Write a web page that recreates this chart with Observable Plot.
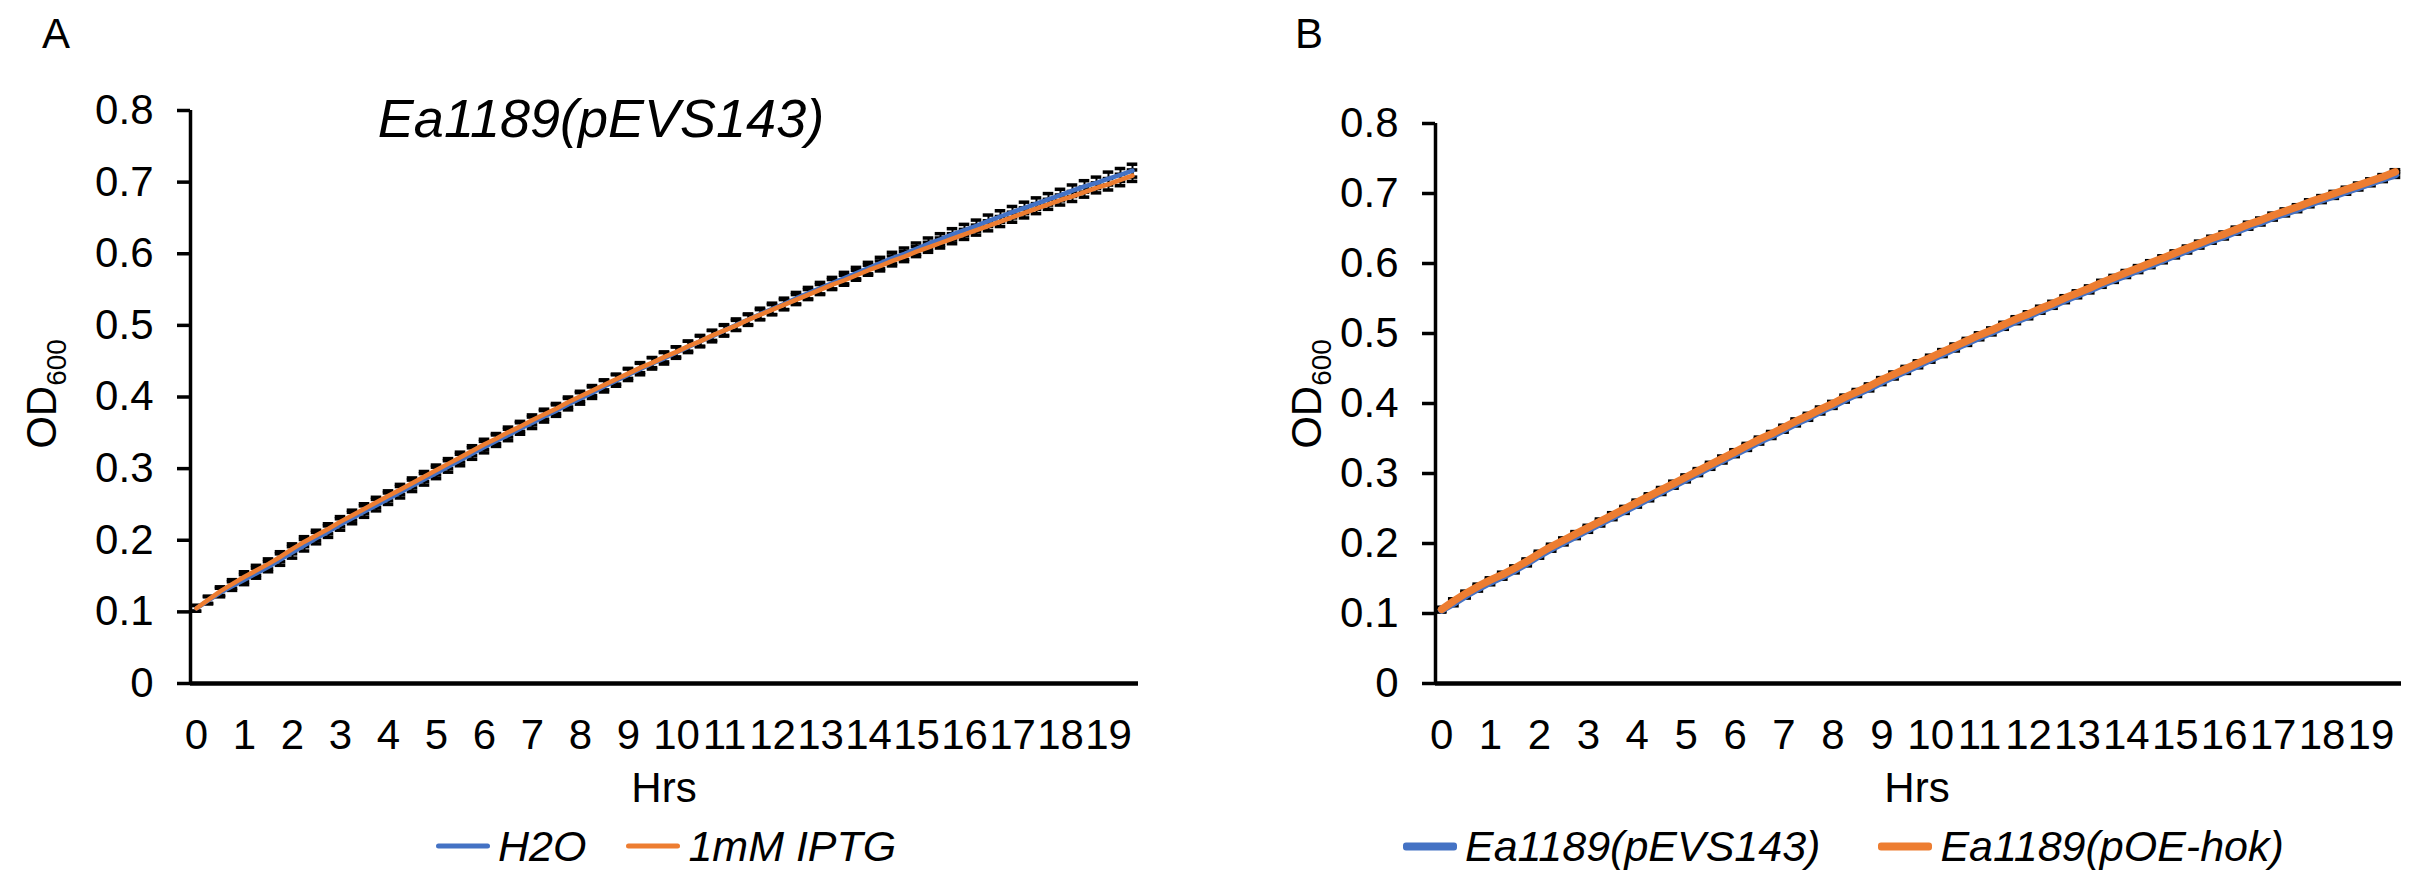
<!DOCTYPE html>
<html><head><meta charset="utf-8">
<script src="https://cdn.jsdelivr.net/npm/d3@7"></script>
<script src="https://cdn.jsdelivr.net/npm/@observablehq/plot@0.6"></script>
<style>
body{margin:0;background:#fff;}
#wrap{position:relative;width:2424px;height:875px;font-family:"Liberation Sans",Arial,sans-serif;color:#000;overflow:hidden;background:#fff}
.abs{position:absolute;white-space:nowrap;line-height:1}
.panel{position:absolute;top:0}
.legend{position:absolute;display:flex;align-items:center;font-style:italic;font-size:43px;white-space:nowrap;transform:translateY(-50%)}
.sw{display:inline-block;width:54px;margin-right:8px;border-radius:3px}
</style></head>
<body><div id="wrap"></div>
<script>
// ---- data ----
const hours = [0,0.25,0.5,0.75,1,1.25,1.5,1.75,2,2.25,2.5,2.75,3,3.25,3.5,3.75,4,4.25,4.5,4.75,5,5.25,5.5,5.75,6,6.25,6.5,6.75,7,7.25,7.5,7.75,8,8.25,8.5,8.75,9,9.25,9.5,9.75,10,10.25,10.5,10.75,11,11.25,11.5,11.75,12,12.25,12.5,12.75,13,13.25,13.5,13.75,14,14.25,14.5,14.75,15,15.25,15.5,15.75,16,16.25,16.5,16.75,17,17.25,17.5,17.75,18,18.25,18.5,18.75,19,19.25,19.5];
const xTicks = [0,1,2,3,4,5,6,7,8,9,10,11,12,13,14,15,16,17,18,19];
const yTicks = [0,0.1,0.2,0.3,0.4,0.5,0.6,0.7,0.8];

const seriesA = ["H2O", "1mM IPTG"];
const seriesB = ["Ea1189(pEVS143)", "Ea1189(pOE-hok)"];
const titleA = "Ea1189(pEVS143)";

const aH2O = [.105,.116,.127,.136,.145,.154,.163,.173,.183,.193,
.203,.212,.222,.231,.240,.249,.258,.267,.276,.285,
.294,.303,.312,.321,.330,.339,.347,.356,.364,.373,
.381,.390,.398,.406,.415,.423,.431,.439,.447,.454,
.462,.470,.478,.485,.493,.501,.508,.516,.523,.530,
.538,.545,.552,.559,.566,.573,.580,.587,.594,.600,
.607,.614,.620,.627,.633,.639,.646,.652,.658,.664,
.670,.676,.682,.688,.694,.699,.705,.710,.716];
const aIPTG = [.105,.117,.129,.139,.149,.158,.167,.177,.188,.198,
.207,.216,.226,.235,.244,.253,.262,.271,.280,.289,
.298,.307,.316,.325,.334,.342,.351,.359,.368,.376,
.384,.393,.401,.409,.417,.425,.433,.441,.448,.456,
.463,.471,.478,.486,.493,.500,.508,.515,.522,.529,
.536,.543,.550,.557,.563,.570,.577,.583,.590,.596,
.603,.609,.615,.621,.627,.633,.639,.645,.651,.657,
.663,.669,.675,.680,.686,.692,.697,.703,.709];
const bEVS = [.105,.115,.126,.136,.145,.153,.162,.172,.183,.193,
.202,.211,.220,.229,.238,.247,.256,.265,.274,.283,
.292,.301,.310,.319,.328,.337,.346,.354,.363,.372,
.380,.389,.397,.406,.414,.422,.431,.439,.447,.455,
.463,.471,.479,.487,.495,.502,.510,.518,.525,.533,
.540,.548,.555,.562,.570,.577,.584,.591,.598,.605,
.612,.619,.626,.633,.639,.646,.653,.659,.666,.672,
.678,.685,.691,.697,.703,.709,.715,.721,.727];
const bHOK = [.106,.118,.129,.139,.148,.156,.165,.175,.186,.196,
.205,.214,.223,.232,.241,.250,.259,.268,.277,.286,
.295,.304,.313,.322,.331,.340,.349,.357,.366,.375,
.383,.392,.400,.409,.417,.425,.434,.442,.450,.458,
.466,.474,.482,.490,.498,.505,.513,.521,.528,.536,
.543,.551,.558,.565,.573,.580,.587,.594,.601,.608,
.615,.622,.629,.636,.642,.649,.656,.662,.669,.675,
.681,.688,.694,.700,.706,.712,.718,.724,.731];

const errAH2O = [.004,.005,.006,.006,.007,.007,.007,.008,.008,.008,
.008,.008,.008,.008,.008,.008,.008,.008,.008,.008,
.008,.008,.008,.008,.008,.008,.008,.008,.008,.008,
.008,.008,.008,.008,.008,.008,.008,.008,.008,.008,
.008,.008,.008,.008,.008,.008,.008,.008,.008,.008,
.008,.008,.008,.008,.008,.008,.008,.008,.008,.008,
.008,.008,.008,.008,.008,.008,.008,.008,.008,.008,
.008,.008,.008,.008,.008,.008,.009,.009,.009];
const errAIPTG = [.004,.005,.006,.006,.007,.007,.007,.007,.007,.007,
.007,.007,.007,.007,.007,.007,.007,.007,.007,.007,
.007,.007,.007,.007,.007,.007,.007,.007,.007,.007,
.007,.007,.007,.007,.007,.007,.007,.007,.007,.007,
.007,.007,.007,.007,.007,.007,.007,.007,.007,.007,
.007,.007,.007,.007,.007,.007,.007,.007,.007,.007,
.007,.007,.007,.007,.007,.007,.007,.007,.007,.007,
.007,.007,.007,.007,.007,.007,.008,.008,.008];
const errBEVS = [.003,.004,.004,.004,.004,.004,.004,.004,.004,.004,
.004,.004,.004,.004,.004,.004,.004,.004,.004,.004,
.004,.004,.004,.004,.004,.004,.004,.004,.004,.004,
.004,.004,.004,.004,.004,.004,.004,.004,.004,.004,
.004,.004,.004,.004,.004,.004,.004,.004,.004,.004,
.004,.004,.004,.004,.004,.004,.004,.004,.004,.004,
.004,.004,.004,.004,.004,.004,.004,.004,.004,.004,
.004,.004,.004,.004,.004,.004,.004,.004,.004];
const errBHOK = [.003,.003,.003,.003,.003,.003,.003,.003,.003,.003,
.003,.003,.003,.003,.003,.003,.003,.003,.003,.003,
.003,.003,.003,.003,.003,.003,.003,.003,.003,.003,
.003,.003,.003,.003,.003,.003,.003,.003,.003,.003,
.003,.003,.003,.003,.003,.003,.003,.003,.003,.003,
.003,.003,.003,.003,.003,.003,.003,.003,.003,.003,
.003,.003,.003,.003,.003,.003,.003,.003,.003,.003,
.003,.003,.003,.003,.003,.003,.003,.003,.003];

const colors = ["#4472C4", "#ED7D31"];

function rows(name, vals, errs) {
  return hours.map((t, i) => ({t, v: vals[i], e: errs[i], s: name}));
}

const wrap = document.getElementById("wrap");

function panel({left, width, marginLeft, marginTop, marginRight, names, vals, errs, lineWidth}) {
  const data = names.flatMap((n, k) => rows(n, vals[k], errs[k]));
  const cap = 0.11;
  const p = Plot.plot({
    width, height: 875,
    marginLeft, marginTop, marginRight, marginBottom: 192,
    style: {fontFamily: '"Liberation Sans", Arial, sans-serif', fontSize: "42px", color: "#000", background: "transparent", overflow: "visible"},
    x: {domain: [-0.125, 19.625]},
    y: {domain: [0, 0.8]},
    color: {domain: names, range: colors},
    marks: [
      Plot.axisX({ticks: xTicks, tickSize: 0, tickPadding: 36, label: null, tickFormat: d => String(d), fontSize: 42}),
      Plot.axisY({ticks: yTicks, tickSize: 13, tickPadding: 24, label: null, tickFormat: d => String(d), strokeWidth: 3.5, fontSize: 42}),
      Plot.ruleX([-0.125], {y1: 0, y2: 0.8, strokeWidth: 3.5, stroke: "#000"}),
      Plot.ruleX(data, {x: "t", y1: d => d.v - d.e, y2: d => d.v + d.e, stroke: "#000", strokeWidth: 2}),
      Plot.ruleY(data, {y: d => d.v + d.e, x1: d => d.t - cap, x2: d => d.t + cap, stroke: "#000", strokeWidth: 3.5}),
      Plot.ruleY(data, {y: d => d.v - d.e, x1: d => d.t - cap, x2: d => d.t + cap, stroke: "#000", strokeWidth: 3.5}),
      Plot.line(data, {x: "t", y: "v", z: "s", stroke: "s", strokeWidth: lineWidth, strokeLinejoin: "round", strokeLinecap: "round"}),
      Plot.ruleY([0], {strokeWidth: 4.5, stroke: "#000"})
    ]
  });
  p.classList.add("panel");
  p.style.left = left + "px";
  wrap.appendChild(p);
}

panel({left: 0, width: 1200, marginLeft: 190, marginTop: 110, marginRight: 62,
  names: seriesA, vals: [aH2O, aIPTG], errs: [errAH2O, errAIPTG], lineWidth: 4.5});
panel({left: 1212, width: 1212, marginLeft: 223, marginTop: 123, marginRight: 23,
  names: seriesB, vals: [bEVS, bHOK], errs: [errBEVS, errBHOK], lineWidth: 7.5});

function addText(html, x, y, css) {
  const d = document.createElement("div");
  d.className = "abs";
  d.innerHTML = html;
  d.style.left = x + "px";
  d.style.top = y + "px";
  d.style.transform = "translate(-50%,-50%)";
  Object.assign(d.style, css || {});
  wrap.appendChild(d);
  return d;
}

addText("A", 56, 34, {fontSize: "42px"});
addText("B", 1309, 34, {fontSize: "42px"});
addText(titleA, 601, 118, {fontSize: "54px", fontStyle: "italic"});
addText("Hrs", 664, 788, {fontSize: "42px"});
addText("Hrs", 1917, 788, {fontSize: "42px"});
addText('OD<sub style="font-size:28px">600</sub>', 46, 394, {fontSize: "42px", transform: "translate(-50%,-50%) rotate(-90deg)"});
addText('OD<sub style="font-size:28px">600</sub>', 1311, 394, {fontSize: "42px", transform: "translate(-50%,-50%) rotate(-90deg)"});

function legend(names, x, y, swh, gap) {
  const d = document.createElement("div");
  d.className = "legend";
  d.style.left = x + "px";
  d.style.top = y + "px";
  d.innerHTML = names.map((n, i) =>
    `<span class="sw" style="background:${colors[i]};height:${swh}px"></span><span>${n}</span>` + (i < names.length - 1 ? `<span style="display:inline-block;width:${gap}px"></span>` : "")
  ).join("");
  wrap.appendChild(d);
}
legend(seriesA, 436, 846, 5, 40);
legend(seriesB, 1403, 846, 8, 58);
</script>
</body></html>
